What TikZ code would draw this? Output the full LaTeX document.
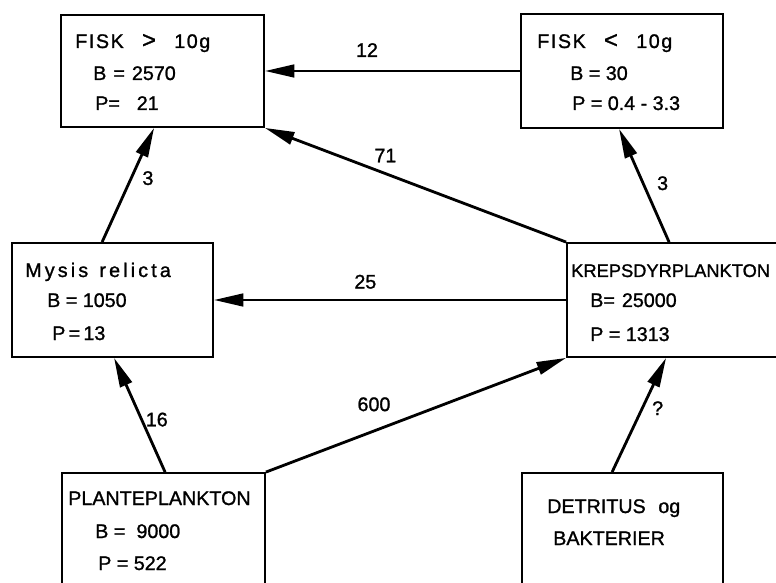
\documentclass[tikz,border=0pt]{standalone}
\usepackage{fontspec}
\setmainfont{Liberation Sans}[FakeBold=1.2]
\usetikzlibrary{arrows.meta,calc}
\newlength\pxunit
\setlength\pxunit{0.025cm}

\begin{document}
\begin{tikzpicture}[
        x=0.025cm, y=-0.025cm,
        box/.style={draw, rectangle, line width=1.3pt, inner sep=0pt},
        txt/.style={anchor=base west, inner sep=0pt, font=\fontsize{14}{16}\selectfont},
        lab/.style={inner sep=1pt, font=\fontsize{14}{16}\selectfont},
        arrow/.style={-{Triangle[length=21pt,width=9pt]}, line width=2pt}
    ]
        \useasboundingbox (0,0) rectangle (776,583);
        \clip (0,0) rectangle (776,583);

        % Boxes
        \node[box, minimum width=203\pxunit, minimum height=112\pxunit] (fiskstor) at (162.5,71) {};
        \node[box, minimum width=202\pxunit, minimum height=114\pxunit] (fiskliten) at (622,71) {};
        \node[box, minimum width=201\pxunit, minimum height=114\pxunit] (mysis) at (112.5,300) {};
        \node[box, minimum width=240\pxunit, minimum height=114\pxunit] (kreps) at (687,300) {};
        \node[box, minimum width=203\pxunit, minimum height=126\pxunit] (plante) at (163.5,536) {};
        \node[box, minimum width=201\pxunit, minimum height=126\pxunit] (detritus) at (622.5,536) {};

        % Texts
        \node[txt] (fiskstor-1) at (75,48) {\addfontfeature{LetterSpace=8}FISK\hspace{13pt}{\fontsize{17}{17}\selectfont>}\hspace{13pt}10g};
        \node[txt] (fiskstor-2) at (93,80) {B\hspace{5pt}=\hspace{5pt}2570};
        \node[txt] (fiskstor-3) at (95,110) {P=\hspace{12pt}21};

        \node[txt] (fiskliten-1) at (537,48) {\addfontfeature{LetterSpace=8}FISK\hspace{13pt}{\fontsize{17}{17}\selectfont<}\hspace{13pt}10g};
        \node[txt] (fiskliten-2) at (570,80) {B = 30};
        \node[txt] (fiskliten-3) at (572,110) {P = 0.4 - 3.3};

        \node[txt] (mysis-1) at (25,277) {\addfontfeature{LetterSpace=16}Mysis\hspace{8pt}relicta};
        \node[txt] (mysis-2) at (47,307) {B = 1050};
        \node[txt] (mysis-3) at (52,340) {P\,=\,13};

        \node[txt, font=\fontsize{13}{16}\selectfont] (kreps-1) at (571,277) {KREPSDYRPLANKTON};
        \node[txt] (kreps-2) at (590,307) {B=\hspace{5pt}25000};
        \node[txt] (kreps-3) at (590,341) {P = 1313};

        \node[txt] (plante-1) at (68,505) {PLANTEPLANKTON};
        \node[txt] (plante-2) at (95,538) {B = \hspace{4pt}9000};
        \node[txt] (plante-3) at (98,570) {P = 522};

        \node[txt] (detritus-1) at (547,513) {DETRITUS\hspace{9pt}og};
        \node[txt] (detritus-2) at (553,545) {BAKTERIER};

        % Connections
        \draw[arrow] (fiskliten) -- node[lab, pos=0.6, above=8pt] (l12) {12} (fiskstor);
        \draw[arrow] (kreps.north west) -- node[lab, pos=0.6, above=6pt] (l71) {71} (fiskstor.south east);
        \draw[arrow] ($(mysis.north west)+(91,0)$) -- node[lab, pos=0.56, right=6pt] (l3a) {3} ($(fiskstor.south west)+(94,0)$);
        \draw[arrow] ($(kreps.north west)+(103,0)$) -- node[lab, pos=0.52, right=8pt] (l3b) {3} ($(fiskliten.south west)+(99,0)$);
        \draw[arrow] (kreps) -- node[lab, pos=0.57, above=6pt] (l25) {25} (mysis);
        \draw[arrow] ($(plante.north west)+(104,0)$) -- node[lab, pos=0.46, right=1pt] (l16) {16} ($(mysis.south west)+(103,0)$);
        \draw[arrow] (plante.north east) -- node[lab, pos=0.36, above=12pt] (l600) {600} (kreps.south west);
        \draw[arrow] ($(detritus.north west)+(91,0)$) -- node[lab, pos=0.56, right=5pt] (lq) {?} ($(kreps.south west)+(100,0)$);
    \end{tikzpicture}
\end{document}
